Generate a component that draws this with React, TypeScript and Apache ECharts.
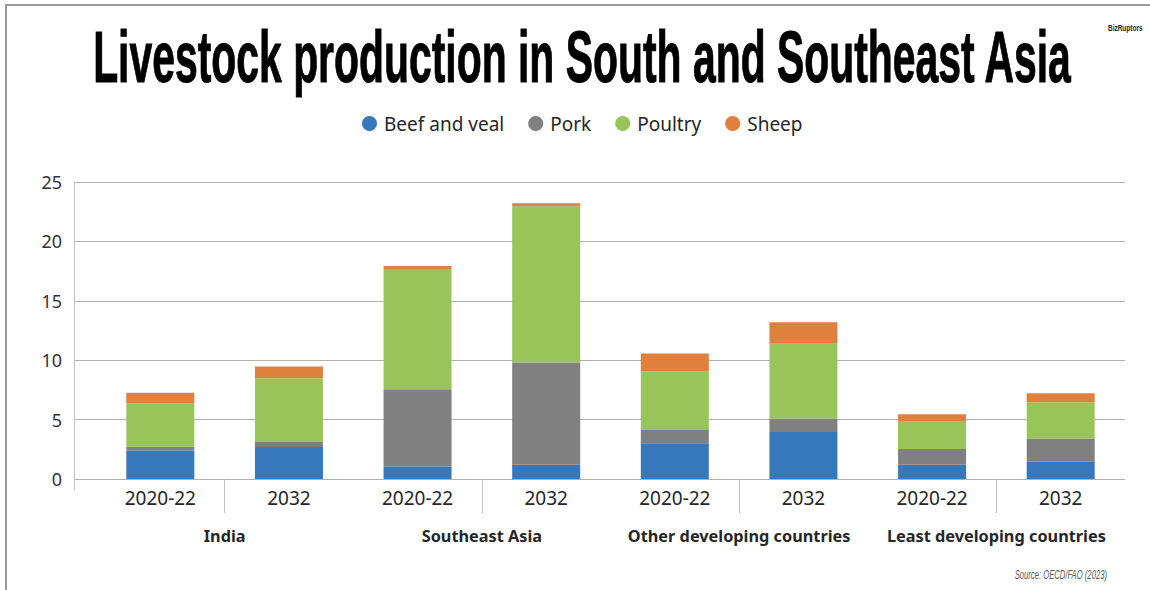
import React, { useEffect, useRef } from 'react';
import * as echarts from 'echarts';

const titleText = 'Livestock production in South and Southeast Asia';
const sourceText = 'Source: OECD/FAO (2023)';
const logoText = 'BizRuptors';

const categories = ['2020-22', '2032', '2020-22', '2032', '2020-22', '2032', '2020-22', '2032'];
const groups = ['India', 'Southeast Asia', 'Other developing countries', 'Least developing countries'];

const seriesNames = ['Beef and veal', 'Pork', 'Poultry', 'Sheep'];
const beef = [2.4, 2.7, 1.05, 1.2, 3.0, 3.95, 1.2, 1.45];
const pork = [0.32, 0.42, 6.5, 8.6, 1.12, 1.15, 1.33, 1.95];
const poultry = [3.65, 5.36, 10.12, 13.16, 4.95, 6.35, 2.36, 3.06];
const sheep = [0.9, 1.0, 0.26, 0.25, 1.5, 1.75, 0.56, 0.76];

const yMin = 0;
const yMax = 25;
const yStep = 5;

const colors = ['#3578BB', '#808080', '#99C45A', '#E0803E'];

const seriesValues = [beef, pork, poultry, sheep];

const baseFont = '"Noto Sans", "Open Sans", sans-serif';

export default function App() {
  const ref = useRef<HTMLDivElement>(null);

  useEffect(() => {
    const chart = echarts.init(ref.current as HTMLDivElement, null, { renderer: 'svg' });
    const option: any = {
      animation: false,
      backgroundColor: '#ffffff',
      textStyle: { fontFamily: baseFont },
      legend: {
        data: seriesNames,
        left: 362,
        top: 114,
        padding: 0,
        icon: 'circle',
        itemWidth: 15,
        itemHeight: 15,
        itemGap: 24,
        textStyle: {
          fontFamily: baseFont,
          fontSize: 19,
          color: '#262626',
          padding: [0, 0, 0, 2],
          lineHeight: 19,
        },
      },
      grid: [
        { left: 74, right: 25, top: 182, height: 297 },
        { left: 96, right: 25, top: 182, height: 297 },
      ],
      xAxis: [
        {
          gridIndex: 0,
          type: 'category',
          data: ['', ''],
          boundaryGap: false,
          axisLine: { show: false },
          axisLabel: { show: false },
          splitLine: { show: false },
          axisTick: {
            show: true,
            length: 11,
            interval: (i: number) => i === 0,
            lineStyle: { color: '#c0c0c0', width: 1 },
          },
        },
        {
          gridIndex: 1,
          type: 'category',
          data: categories,
          position: 'bottom',
          axisLine: { show: false },
          axisTick: { show: false },
          splitLine: { show: false },
          axisLabel: {
            interval: 0,
            margin: 9,
            fontSize: 19,
            color: '#262626',
            fontFamily: baseFont,
          },
        },
        {
          gridIndex: 1,
          type: 'category',
          data: groups,
          position: 'bottom',
          axisLine: { show: false },
          splitLine: { show: false },
          axisTick: {
            show: true,
            alignWithLabel: true,
            length: 34,
            interval: 0,
            lineStyle: { color: '#c0c0c0', width: 1 },
          },
          axisLabel: {
            interval: 0,
            margin: 49,
            fontSize: 16.3,
            fontWeight: 'bold',
            color: '#262626',
            fontFamily: baseFont,
          },
        },
      ],
      yAxis: [
        {
          gridIndex: 0,
          type: 'value',
          min: yMin,
          max: yMax,
          interval: yStep,
          axisLine: { show: true, lineStyle: { color: '#c0c0c0', width: 1 } },
          axisTick: { show: false },
          splitLine: { show: true, lineStyle: { color: '#b0b0b0', width: 1 } },
          axisLabel: {
            margin: 12,
            fontSize: 18,
            color: '#333333',
            fontFamily: baseFont,
          },
        },
        {
          gridIndex: 1,
          type: 'value',
          min: yMin,
          max: yMax,
          interval: yStep,
          show: false,
        },
      ],
      series: seriesNames.map((name, i) => ({
        name,
        type: 'bar',
        stack: 'total',
        xAxisIndex: 1,
        yAxisIndex: 1,
        barWidth: 68,
        itemStyle: { color: colors[i] },
        data: seriesValues[i],
      })),
      graphic: [
        {
          type: 'rect',
          shape: { x: 6, y: 5, width: 1300, height: 800 },
          style: { fill: 'none', stroke: '#9a9a9a', lineWidth: 2 },
          silent: true,
        },
        {
          type: 'text',
          x: 582,
          y: 57,
          scaleX: 0.568,
          style: {
            text: titleText,
            fontFamily: '"Liberation Sans", Arial, sans-serif',
            fontWeight: 'bold',
            fontSize: 72,
            fill: '#000000',
            stroke: '#000000',
            lineWidth: 1,
            textAlign: 'center',
            textVerticalAlign: 'middle',
          },
        },
        {
          type: 'text',
          x: 1108,
          y: 28,
          scaleX: 0.72,
          style: {
            text: logoText,
            fontFamily: '"Liberation Sans", Arial, sans-serif',
            fontWeight: 'bold',
            fontSize: 9,
            fill: '#222222',
            textAlign: 'left',
            textVerticalAlign: 'middle',
          },
        },
        {
          type: 'text',
          x: 1107,
          y: 575,
          scaleX: 0.64,
          style: {
            text: sourceText,
            fontFamily: '"Liberation Sans", Arial, sans-serif',
            fontStyle: 'italic',
            fontSize: 12,
            fill: '#595959',
            textAlign: 'right',
            textVerticalAlign: 'middle',
          },
        },
      ],
    };
    chart.setOption(option);
    return () => {
      chart.dispose();
    };
  }, []);

  return (
    <div
      ref={ref}
      style={{ position: 'fixed', left: 0, top: 0, width: 1150, height: 590, background: '#ffffff' }}
    />
  );
}
